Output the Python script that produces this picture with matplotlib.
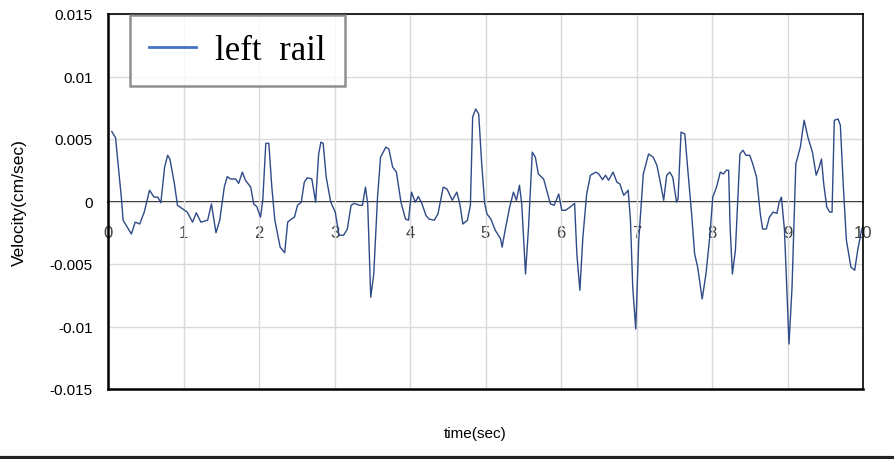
import numpy as np
import matplotlib
matplotlib.use('Agg')
import matplotlib.pyplot as plt
from matplotlib.lines import Line2D

# dados (tempo em s, velocidade em 0.001 cm/s)
tempo = [0.05, 0.10, 0.18, 0.20, 0.24, 0.31, 0.36, 0.42, 0.48, 0.55, 0.61, 0.66, 0.70, 0.75, 0.79, 0.82,
         0.88, 0.92, 0.99, 1.05, 1.12, 1.17, 1.23, 1.32, 1.37, 1.43, 1.48, 1.54, 1.58, 1.62, 1.69, 1.73,
         1.78, 1.82, 1.89, 1.93, 1.97, 2.02, 2.05, 2.09, 2.13, 2.17, 2.21, 2.28, 2.34, 2.38, 2.43, 2.47,
         2.51, 2.56, 2.60, 2.64, 2.70, 2.75, 2.79, 2.82, 2.85, 2.89, 2.95, 3.01, 3.06, 3.12, 3.17, 3.22,
         3.26, 3.33, 3.37, 3.41, 3.44, 3.48, 3.52, 3.57, 3.61, 3.68, 3.72, 3.77, 3.82, 3.88, 3.94, 3.98,
         4.02, 4.07, 4.11, 4.16, 4.21, 4.25, 4.32, 4.37, 4.44, 4.49, 4.56, 4.62, 4.66, 4.70, 4.76, 4.80,
         4.83, 4.87, 4.91, 4.95, 4.99, 5.02, 5.07, 5.13, 5.20, 5.22, 5.26, 5.32, 5.37, 5.41, 5.45, 5.48,
         5.53, 5.57, 5.62, 5.66, 5.70, 5.77, 5.81, 5.86, 5.91, 5.97, 6.01, 6.06, 6.12, 6.18, 6.21, 6.25,
         6.29, 6.34, 6.39, 6.46, 6.50, 6.55, 6.59, 6.63, 6.69, 6.74, 6.78, 6.83, 6.87, 6.89, 6.92, 6.95,
         6.99, 7.03, 7.09, 7.16, 7.22, 7.27, 7.31, 7.36, 7.40, 7.44, 7.48, 7.53, 7.55, 7.59, 7.64, 7.68,
         7.73, 7.77, 7.81, 7.87, 7.92, 7.97, 8.01, 8.06, 8.11, 8.15, 8.19, 8.22, 8.24, 8.27, 8.31, 8.37,
         8.41, 8.45, 8.50, 8.54, 8.59, 8.64, 8.67, 8.72, 8.76, 8.81, 8.86, 8.89, 8.92, 8.96, 9.02, 9.06,
         9.11, 9.17, 9.22, 9.27, 9.33, 9.38, 9.42, 9.45, 9.48, 9.52, 9.56, 9.59, 9.62, 9.67, 9.70, 9.74,
         9.78, 9.84, 9.89, 9.93, 9.98, 10.0]

vel_milli = [5.6, 5.1, 0.1, -1.5, -1.9, -2.6, -1.65, -1.8, -0.85, 0.9, 0.35, 0.35, -0.1, 2.75, 3.7, 3.4,
             1.4, -0.3, -0.6, -0.85, -1.65, -0.9, -1.65, -1.5, -0.2, -2.5, -1.5, 1.15, 2.0, 1.8, 1.8, 1.45,
             2.35, 1.7, 1.15, -0.2, -0.4, -1.25, 0.1, 4.65, 4.65, 1.15, -1.5, -3.65, -4.1, -1.65, -1.4, -1.25,
             -0.3, -0.05, 1.55, 1.9, 1.8, -0.05, 3.8, 4.75, 4.65, 1.95, -0.05, -0.85, -2.7, -2.7, -2.2, -0.3,
             -0.15, -0.3, -0.3, 1.15, -0.2, -7.65, -5.8, 0.35, 3.55, 4.35, 4.2, 2.75, 2.35, -0.05, -1.4, -1.5,
             0.75, -0.05, 0.4, -0.2, -1.1, -1.4, -1.5, -1.0, 1.15, 1.0, 0.1, 0.75, -0.2, -1.8, -1.5, -0.3,
             6.75, 7.4, 7.0, 3.0, -0.2, -1.0, -1.4, -2.3, -3.0, -3.65, -2.3, -0.45, 0.75, 0.1, 1.3, -0.2,
             -5.8, -2.05, 3.95, 3.55, 2.2, 1.8, 0.9, -0.2, -0.3, 0.6, -0.7, -0.7, -0.45, -0.15, -4.2, -7.1,
             -2.85, 0.6, 2.1, 2.35, 2.2, 1.75, 2.1, 1.7, 2.35, 1.55, 1.4, 0.5, 0.75, 0.9, -1.5, -6.85,
             -10.2, -3.1, 2.2, 3.8, 3.55, 2.9, 1.7, 0.1, 2.1, 2.35, 1.95, -0.05, 0.2, 5.55, 5.4, 2.5,
             -1.0, -4.2, -5.25, -7.8, -5.8, -2.85, 0.35, 1.15, 2.35, 2.2, 2.5, 2.5, -2.05, -5.8, -3.9, 3.8,
             4.1, 3.7, 3.7, 3.0, 1.95, -1.0, -2.2, -2.2, -1.25, -0.85, -0.95, -0.05, 0.35, -2.3, -11.4, -6.85,
             3.0, 4.35, 6.5, 5.15, 3.95, 2.1, 2.75, 3.4, 1.4, -0.45, -0.85, -0.85, 6.5, 6.6, 6.1, 1.15,
             -3.1, -5.25, -5.5, -3.9, -2.3, -2.0]

velocidade = np.array(vel_milli) * 1e-3

xticks = list(range(0, 11))
yticks = [-0.015, -0.01, -0.005, 0, 0.005, 0.01, 0.015]
ylabels = ['-0.015', '-0.01', '-0.005', '0', '0.005', '0.01', '0.015']

fonte = ['Liberation Sans', 'DejaVu Sans']

fig = plt.figure(figsize=(8.94, 4.60), dpi=100)
ax = fig.add_axes([108 / 894, 1 - 390 / 460, 755 / 894, 375 / 460])

ax.plot(tempo, velocidade, color='#2E4A87', lw=1.0)

ax.set_xlim(0, 10)
ax.set_ylim(-0.015, 0.015)
ax.set_xticks(xticks)
ax.set_xticklabels([])
ax.set_yticks(yticks)
ax.set_yticklabels(ylabels, family=fonte, fontsize=11)
ax.tick_params(axis='both', length=0)
ax.tick_params(axis='y', pad=11)
ax.grid(True, color='#D9D9D9', lw=1.0)
ax.set_axisbelow(True)
for s in ax.spines.values():
    s.set_color('black')
    s.set_linewidth(1.2)
ax.spines['left'].set_linewidth(1.8)
ax.spines['bottom'].set_linewidth(1.8)

# eixo do zero com os rotulos de tempo
sec = ax.secondary_xaxis(0.5)
sec.set_alignment('bottom')
sec.set_xticks(xticks)
sec.set_xticklabels([str(x) for x in xticks], family=fonte, fontsize=12, color='#404040')
sec.tick_params(length=0, pad=17)
sec.spines['bottom'].set_color('black')
sec.spines['bottom'].set_linewidth(1.3)

ax.set_xlabel('time(sec)', family=fonte, fontsize=11)
ax.xaxis.set_label_coords(0.486, -0.10)
ax.set_ylabel('Velocity(cm/sec)', family=fonte, fontsize=12.5, labelpad=16)

handle = Line2D([], [], color='#4472C4', lw=2)
leg = ax.legend([handle], ['left  rail'], loc='upper left', bbox_to_anchor=(0.029, 0.997),
                borderaxespad=0, frameon=True, fancybox=False, handlelength=1.35,
                borderpad=0.55, handletextpad=0.55,
                prop={'family': ['Liberation Serif', 'DejaVu Serif'], 'size': 25})
leg.get_frame().set_edgecolor('#757575')
leg.get_frame().set_linewidth(1.8)

fig.add_artist(Line2D([0, 1], [0.003, 0.003], transform=fig.transFigure, color='#222222', lw=3))

fig.savefig('out.png', dpi=100)
